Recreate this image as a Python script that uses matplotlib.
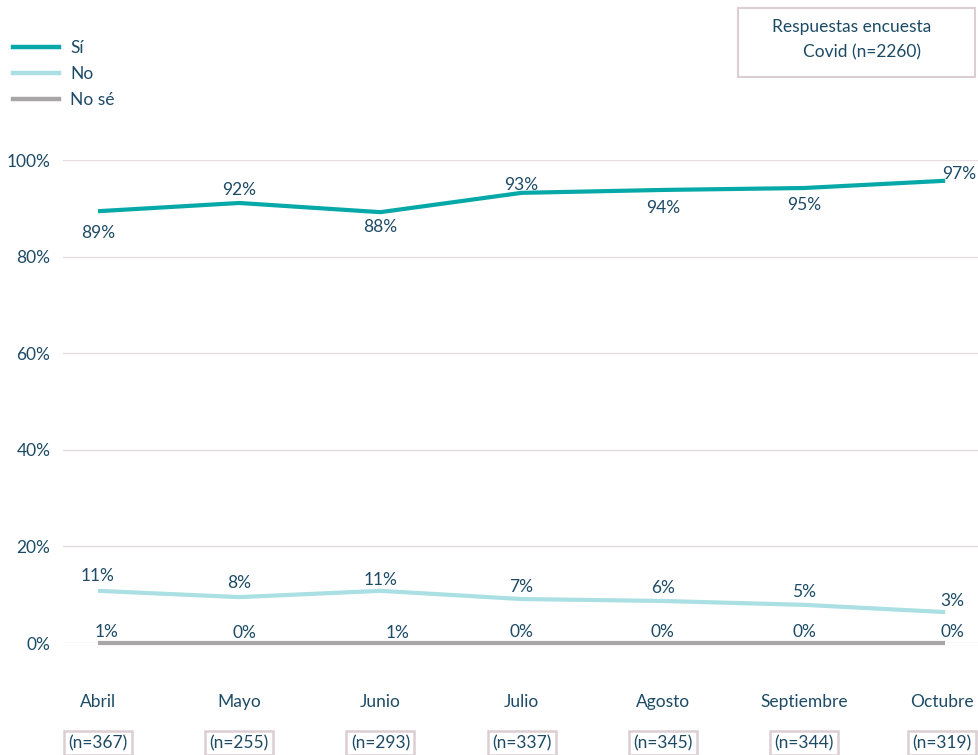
import matplotlib
matplotlib.use("Agg")
import matplotlib.pyplot as plt
from matplotlib.lines import Line2D
from matplotlib.patches import Rectangle

plt.rcParams['font.family'] = ['Lato', 'DejaVu Sans']

months = ["Abril", "Mayo", "Junio", "Julio", "Agosto", "Septiembre", "Octubre"]
n_labels = ["(n=367)", "(n=255)", "(n=293)", "(n=337)", "(n=345)", "(n=344)", "(n=319)"]
si_vals = [89.4, 91.1, 89.2, 93.2, 93.8, 94.2, 95.7]
no_vals = [10.8, 9.5, 10.8, 9.1, 8.7, 7.9, 6.4]
nose_vals = [0, 0, 0, 0, 0, 0, 0]
si_labels = ["89%", "92%", "88%", "93%", "94%", "95%", "97%"]
no_labels = ["11%", "8%", "11%", "7%", "6%", "5%", "3%"]
nose_labels = ["1%", "0%", "1%", "0%", "0%", "0%", "0%"]
yticks = [0, 20, 40, 60, 80, 100]

TXT = "#1d4b66"
C_SI = "#06a8a8"
C_NO = "#aadfe3"
C_NOSE = "#a8a6a7"
GRID = "#e5dde0"
BOX = "#dccfd4"
FS = 12.5

W, H = 979, 755
fig = plt.figure(figsize=(W / 100, H / 100), dpi=100)
# axes: x from 63 to 979 px, y from 160 (100%) to 643 (0%)
ax = fig.add_axes([63 / W, 1 - 643 / H, (979 - 63) / W, (643 - 160) / H])
ax.set_xlim(-(98 - 63) / 141.2, (979 - 98) / 141.2)
ax.set_ylim(0, 100)
for s in ax.spines.values():
    s.set_visible(False)
ax.set_xticks([])
ax.set_yticks(yticks)
ax.set_yticklabels([f"{v}%" for v in yticks], color=TXT, fontsize=FS)
ax.tick_params(axis='y', length=0, pad=9)
for v in yticks:
    ax.axhline(v, color=GRID, lw=1, zorder=0)

x = list(range(len(months)))
ax.plot(x, si_vals, color=C_SI, lw=3, clip_on=False, solid_capstyle='butt')
ax.plot(x, no_vals, color=C_NO, lw=3, clip_on=False, solid_capstyle='butt')
ax.plot(x, nose_vals, color=C_NOSE, lw=3, clip_on=False, solid_capstyle='butt')

# Sí labels: offsets (dx, dy) in points
si_off = [(0, -16), (0, 9), (0, -11), (0, 6), (0, -13), (0, -12), (10, 5)]
for i, (lab, (dx, dy)) in enumerate(zip(si_labels, si_off)):
    ax.annotate(lab, (i, si_vals[i]), xytext=(dx, dy), textcoords='offset points',
                ha='center', va='center', color=TXT, fontsize=FS, annotation_clip=False)
no_off = [(0, 11), (0, 10), (0, 8), (0, 9), (0, 9), (0, 9), (5, 8)]
for i, (lab, (dx, dy)) in enumerate(zip(no_labels, no_off)):
    ax.annotate(lab, (i, no_vals[i]), xytext=(dx, dy), textcoords='offset points',
                ha='center', va='center', color=TXT, fontsize=FS, annotation_clip=False)
nose_off = [(6, 8), (4, 7), (12, 7), (0, 8), (0, 8), (0, 8), (5, 8)]
for i, (lab, (dx, dy)) in enumerate(zip(nose_labels, nose_off)):
    ax.annotate(lab, (i, nose_vals[i]), xytext=(dx, dy), textcoords='offset points',
                ha='center', va='center', color=TXT, fontsize=FS, annotation_clip=False)

# month labels and n boxes
for i, (m, n) in enumerate(zip(months, n_labels)):
    xd = ax.transData.transform((i, 0))[0]
    xf = xd / W
    if i == len(months) - 1:
        xf = min(xf, (W - 37) / W)
    fig.text(xf, 1 - 702 / H, m, ha='center', va='center', color=TXT, fontsize=FS)
    fig.text(xf, 1 - 743 / H, n, ha='center', va='center', color=TXT, fontsize=FS,
             bbox=dict(boxstyle='square,pad=0.25', fc='white', ec=BOX, lw=1.8))

# legend
leg_items = [("Sí", C_SI, 47), ("No", C_NO, 73), ("No sé", C_NOSE, 99)]
for lab, c, yp in leg_items:
    fig.add_artist(Line2D([13 / W, 59 / W], [1 - yp / H, 1 - yp / H], color=c, lw=3.2,
                          transform=fig.transFigure))
    fig.text(70 / W, 1 - (yp + 1) / H, lab, ha='left', va='center', color=TXT, fontsize=FS)

# top-right box
fig.add_artist(Rectangle((738 / W, 1 - 77 / H), (975 - 738) / W, (77 - 8) / H,
                         transform=fig.transFigure, fc='white', ec=BOX, lw=1.5))
fig.text(852 / W, 1 - 27 / H, "Respuestas encuesta", ha='center', va='center', color=TXT, fontsize=FS)
fig.text(862 / W, 1 - 52 / H, "Covid (n=2260)", ha='center', va='center', color=TXT, fontsize=FS)

fig.savefig("out.png", dpi=100, facecolor='white')
